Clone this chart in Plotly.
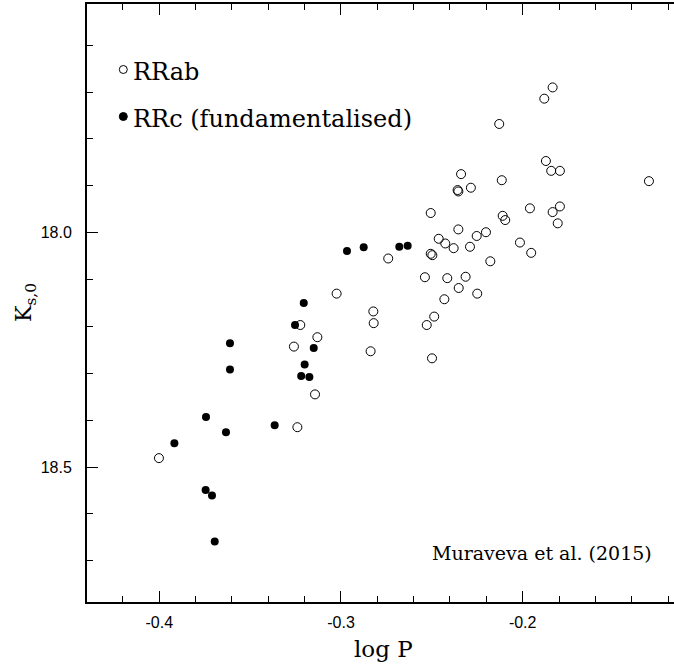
import plotly.graph_objects as go

# RRab stars (open circles): log P, K_s,0
rrab_logp = [-0.3024, -0.2822, -0.2820, -0.3224, -0.3130, -0.3259, -0.2837, -0.3143, -0.3240, -0.4002,
             -0.2740, -0.2538, -0.2415, -0.2314, -0.2352, -0.2431, -0.2487, -0.2528, -0.2499, -0.2250,
             -0.2506, -0.2506, -0.2497, -0.2462, -0.2426, -0.2380, -0.2290, -0.2354, -0.2354, -0.2358,
             -0.2285, -0.2253, -0.1835, -0.1881, -0.2129, -0.1872, -0.1843, -0.1795, -0.2339, -0.2115,
             -0.1305, -0.1960, -0.1835, -0.1795, -0.1807, -0.2110, -0.2096, -0.2202, -0.2015, -0.1953,
             -0.2178]
rrab_k = [18.130, 18.168, 18.193, 18.197, 18.223, 18.243, 18.253, 18.345, 18.415, 18.481,
          18.055, 18.095, 18.097, 18.094, 18.118, 18.142, 18.179, 18.197, 18.268, 18.130,
          17.958, 18.045, 18.048, 18.013, 18.023, 18.033, 18.030, 17.993, 17.912, 17.909,
          17.904, 18.007, 17.690, 17.714, 17.768, 17.847, 17.868, 17.868, 17.875, 17.888,
          17.890, 17.948, 17.956, 17.944, 17.980, 17.964, 17.973, 17.999, 18.021, 18.043,
          18.061]

# RRc stars (fundamentalised, filled circles)
rrc_logp = [-0.3205, -0.3253, -0.3611, -0.3150, -0.3611, -0.3200, -0.3219, -0.3174, -0.3743, -0.3365,
            -0.3633, -0.3917, -0.3745, -0.3710, -0.3695, -0.2967, -0.2875, -0.2679, -0.2633]
rrc_k = [18.150, 18.197, 18.236, 18.246, 18.292, 18.281, 18.306, 18.308, 18.393, 18.411,
         18.426, 18.449, 18.549, 18.561, 18.659, 18.039, 18.031, 18.030, 18.028]

x_tickvals = [-0.4, -0.3, -0.2]
x_ticktext = ["-0.4", "-0.3", "-0.2"]
y_tickvals = [18.0, 18.5]
y_ticktext = ["18.0", "18.5"]

W, H = 674, 664
ML, MR, MT, MB = 87, 0, 4, 62
PW, PH = W - ML - MR, H - MT - MB


def px(xp):
    return (xp - ML) / PW


def py(yp):
    return (H - MB - yp) / PH


SERIF = "DejaVu Serif"
SANS = "Liberation Sans"

fig = go.Figure()
fig.add_trace(go.Scatter(x=rrab_logp, y=rrab_k, mode="markers",
                         marker=dict(symbol="circle-open", size=9, color="black", line=dict(width=1, color="black")),
                         showlegend=False, hoverinfo="skip"))
fig.add_trace(go.Scatter(x=rrc_logp, y=rrc_k, mode="markers",
                         marker=dict(symbol="circle", size=8, color="black", line=dict(width=0)),
                         showlegend=False, hoverinfo="skip"))

axis_common = dict(showgrid=False, zeroline=False, showline=True, linecolor="black", linewidth=2,
                   ticks="inside", ticklen=11, tickwidth=1, tickcolor="black",
                   tickfont=dict(family=SANS, size=16, color="black"))

fig.update_layout(
    width=W, height=H,
    margin=dict(l=ML, r=MR, t=MT, b=MB, pad=0),
    paper_bgcolor="white", plot_bgcolor="white",
    xaxis=dict(range=[-0.4398, -0.1167], tickmode="array", tickvals=x_tickvals, ticktext=x_ticktext,
               mirror="ticks", ticklabelstandoff=5,
               minor=dict(tickmode="linear", tick0=-0.4, dtick=0.02, ticks="inside", ticklen=6,
                          tickwidth=1, tickcolor="black"),
               **axis_common),
    yaxis=dict(range=[18.788, 17.512], tickmode="array", tickvals=y_tickvals, ticktext=y_ticktext,
               ticklabelstandoff=10,
               minor=dict(tickmode="linear", tick0=18.0, dtick=0.1, ticks="inside", ticklen=6,
                          tickwidth=1, tickcolor="black"),
               **axis_common),
)

# legend markers
r = 4
for cy, filled in [(69.5, False), (116.5, True)]:
    fig.add_shape(type="circle", xref="paper", yref="paper",
                  x0=px(123.3 - r), x1=px(123.3 + r), y0=py(cy + r), y1=py(cy - r),
                  line=dict(color="black", width=1), fillcolor="black" if filled else "white")

anns = [
    dict(text="RRab", x=px(131), y=py(72), xanchor="left", yanchor="middle", font=dict(family=SERIF, size=24)),
    dict(text="RRc (fundamentalised)", x=px(131), y=py(119), xanchor="left", yanchor="middle",
         font=dict(family=SERIF, size=24)),
    dict(text="Muraveva et al. (2015)", x=px(542), y=py(553), xanchor="center", yanchor="middle",
         font=dict(family=SERIF, size=19)),
    dict(text="log P", x=px(384), y=py(649), xanchor="center", yanchor="middle",
         font=dict(family=SERIF, size=23)),
    dict(text="K<sub>s,0</sub>", x=px(25), y=py(303),
         xanchor="center", yanchor="middle", textangle=-90, font=dict(family=SERIF, size=22)),
]
for a in anns:
    a.setdefault("xref", "paper")
    a.setdefault("yref", "paper")
    a["showarrow"] = False
    a["font"]["color"] = "black"
    fig.add_annotation(**a)

fig.write_html("out.html")
